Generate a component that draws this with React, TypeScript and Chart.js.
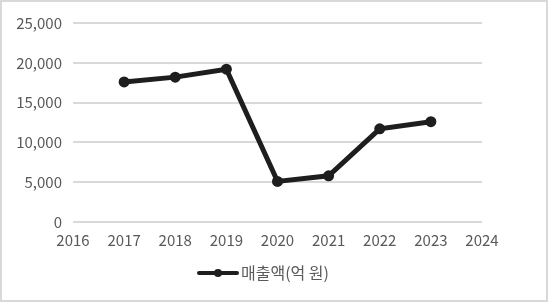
import React, { useEffect, useRef } from "react";
import { Chart, registerables } from "chart.js";

Chart.register(...registerables);

const years = [2017, 2018, 2019, 2020, 2021, 2022, 2023];
const sales = [17600, 18200, 19200, 5100, 5800, 11700, 12600];
const seriesLabel = "매출액(억 원)";
const xMin = 2016;
const xMax = 2024;
const yMax = 25000;
const yStep = 5000;

const FONT = "'Noto Sans CJK KR', 'Liberation Sans', sans-serif";
const TEXT = "#595959";
const LINE = "#1e1e1e";

function makeLegendImage(): HTMLCanvasElement {
  const c = document.createElement("canvas");
  c.width = 42;
  c.height = 12;
  const ctx = c.getContext("2d")!;
  ctx.strokeStyle = LINE;
  ctx.lineWidth = 4;
  ctx.lineCap = "round";
  ctx.beginPath();
  ctx.moveTo(2, 6);
  ctx.lineTo(40, 6);
  ctx.stroke();
  ctx.fillStyle = LINE;
  ctx.beginPath();
  ctx.arc(21, 6, 4, 0, Math.PI * 2);
  ctx.fill();
  return c;
}

export default function App() {
  const ref = useRef<HTMLCanvasElement | null>(null);

  useEffect(() => {
    document.body.style.margin = "0";
    const img = makeLegendImage();
    const chart = new Chart(ref.current!, {
      type: "line",
      data: {
        datasets: [
          {
            label: seriesLabel,
            data: years.map((y, i) => ({ x: y, y: sales[i] })),
            borderColor: LINE,
            backgroundColor: LINE,
            borderWidth: 5,
            pointRadius: 5.5,
            pointBackgroundColor: LINE,
            pointBorderWidth: 0,
            tension: 0,
            yAxisID: "y",
          },
        ],
      },
      options: {
        animation: false,
        responsive: false,
        layout: { padding: { top: 21, bottom: 9, left: 0, right: 16 } },
        plugins: {
          tooltip: { enabled: false },
          legend: {
            position: "bottom",
            labels: {
              usePointStyle: true,
              pointStyleWidth: 30,
              padding: 6,
              color: TEXT,
              font: { family: FONT, size: 16 },
              generateLabels: (ch: any) => {
                const items = Chart.defaults.plugins.legend.labels.generateLabels(ch);
                return items.map((it: any) => ({ ...it, pointStyle: img, fontColor: TEXT }));
              },
            },
          },
        },
        scales: {
          x: {
            type: "linear",
            min: xMin,
            max: xMax,
            grid: { display: false, drawTicks: false },
            border: { display: false },
            ticks: {
              stepSize: 1,
              padding: 9,
              color: TEXT,
              font: { family: FONT, size: 15 },
              maxRotation: 0,
              callback: (v: any) => String(v),
            },
            afterFit: (s: any) => {
              s.height = 37;
            },
          },
          y: {
            position: "left",
            min: 0,
            max: yMax,
            grid: { color: "#d9d9d9", lineWidth: 2, drawTicks: false },
            border: { display: false },
            ticks: {
              stepSize: yStep,
              padding: 11,
              color: TEXT,
              font: { family: FONT, size: 15 },
            },
            afterFit: (s: any) => {
              s.width = 71;
            },
          },
          y2: {
            position: "right",
            display: true,
            grid: { display: false, drawTicks: false },
            border: { display: false },
            ticks: { display: false },
            afterFit: (s: any) => {
              s.width = 48;
            },
          },
        },
      },
    });
    return () => chart.destroy();
  }, []);

  return (
    <div
      style={{
        width: 548,
        height: 302,
        boxSizing: "border-box",
        border: "2px solid #d9d9d9",
        background: "#fff",
      }}
    >
      <canvas ref={ref} width={544} height={298} style={{ display: "block" }} />
    </div>
  );
}
